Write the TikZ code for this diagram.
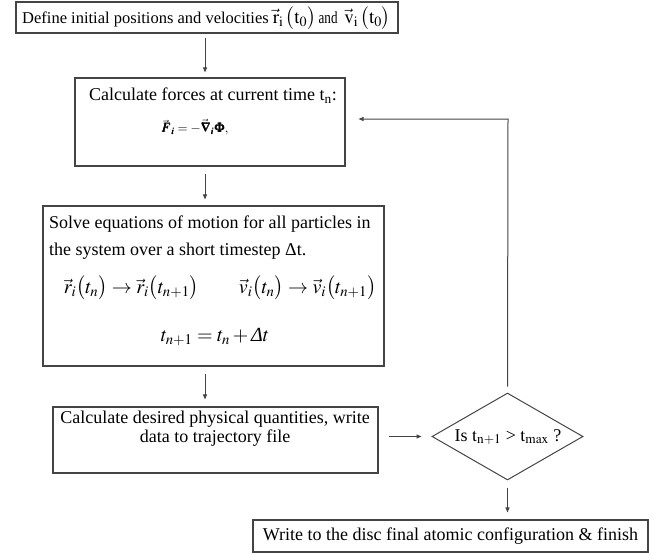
\documentclass[tikz,border=0pt]{standalone}
\usepackage{mathptmx}
\usepackage{bm}
\usepackage{fontspec}
\setmainfont{Liberation Serif}
\newfontfamily\condA[FakeStretch=0.77]{Liberation Serif}
\usetikzlibrary{shapes.geometric,arrows.meta}
\definecolor{linec}{HTML}{444444}
\begin{document}
\begin{tikzpicture}[x=1pt,y=-1pt,
  box/.style={draw=linec,line width=1.1pt,rectangle,inner sep=0pt},
  arr/.style={draw=linec,line width=1pt,-{Triangle[length=5pt,width=4pt]}},
  txt/.style={inner sep=0pt,font=\fontsize{18}{19}\selectfont}]
\useasboundingbox (0,0) rectangle (653,554);
% boxes
\node[box,minimum width=382pt,minimum height=31pt] (b1) at (207,17.5) {};
\node[inner sep=0pt,font=\fontsize{16.5}{19}\selectfont,anchor=west] (b1t) at (22,18.5)
  {Define initial positions and velocities {\fontsize{19}{20}\selectfont\(\vec{\mathrm r}_{\mathrm i}\,\bigl(\mathrm t_0\bigr)\)}\,{\condA\fontsize{17}{19}\selectfont and}\,\ {\fontsize{19}{20}\selectfont\(\vec{\mathrm v}_{\mathrm i}\,\bigl(\mathrm t_0\bigr)\)}};
\node[box,minimum width=270pt,minimum height=88pt] (b2) at (210,122) {};
\node[txt] (b2a) at (213,96) {Calculate forces at current time t\textsubscript{n}:};
\node[inner sep=0pt,font=\fontsize{13}{15}\selectfont] (b2b) at (195,127)
  {\(\vec{\bm F}_{\bm i}=-\vec{\bm\nabla}_{\bm i}\bm\Phi,\)};
\node[box,minimum width=341pt,minimum height=160pt] (b3) at (213.5,286) {};
\node[txt,anchor=west] (b3a) at (49,224) {Solve equations of motion for all particles in};
\node[txt,anchor=west] (b3b) at (49,251) {the system over a short timestep Δt.};
\node[inner sep=0pt,font=\fontsize{20}{23}\selectfont] (b3c) at (220,288)
  {\(\vec r_i\bigl(t_n\bigr)\rightarrow\vec r_i\bigl(t_{n+1}\bigr)\qquad \vec v_i\bigl(t_n\bigr)\rightarrow\vec v_i\bigl(t_{n+1}\bigr)\)};
\node[inner sep=0pt,font=\fontsize{20}{23}\selectfont] (b3d) at (215,337)
  {\(t_{n+1}=t_n+\mbox{\itshape Δ}t\)};
\node[box,minimum width=325pt,minimum height=66pt] (b4) at (215.5,440) {};
\node[txt,align=center] (b4t) at (215,429)
  {Calculate desired physical quantities, write\\data to trajectory file};
\node[draw=linec,line width=1pt,diamond,minimum width=151pt,minimum height=87pt,inner sep=0pt] (d) at (507.5,436.5) {};
\node[txt] (dt) at (508,437) {Is \(\mathrm t_{\mathrm{n+1}}\) > \(\mathrm t_{\mathrm{max}}\) ?};
\node[box,minimum width=395pt,minimum height=32pt,txt] (b5) at (450.5,536)
  {Write to the disc final atomic configuration \& finish};
% connectors
\coordinate (ax) at (205,0);
\coordinate (fb) at (508,119);
\draw[arr,shorten <=4pt,shorten >=5pt] (ax |- b1.south) -- (ax |- b2.north);
\draw[arr,shorten <=7pt,shorten >=6pt] (ax |- b2.south) -- (ax |- b3.north);
\draw[arr,shorten <=7pt,shorten >=7pt] (ax |- b3.south) -- (ax |- b4.north);
\draw[arr,shorten <=10pt,shorten >=10pt] (b4.east |- d.west) -- (d.west);
\draw[arr,shorten <=7pt,shorten >=7pt] (d.south) -- (d.south |- b5.north);
\draw[arr] ([yshift=6pt]d.north) -- (fb) -- ([xshift=13pt]fb -| b2.east);
\end{tikzpicture}
\end{document}
